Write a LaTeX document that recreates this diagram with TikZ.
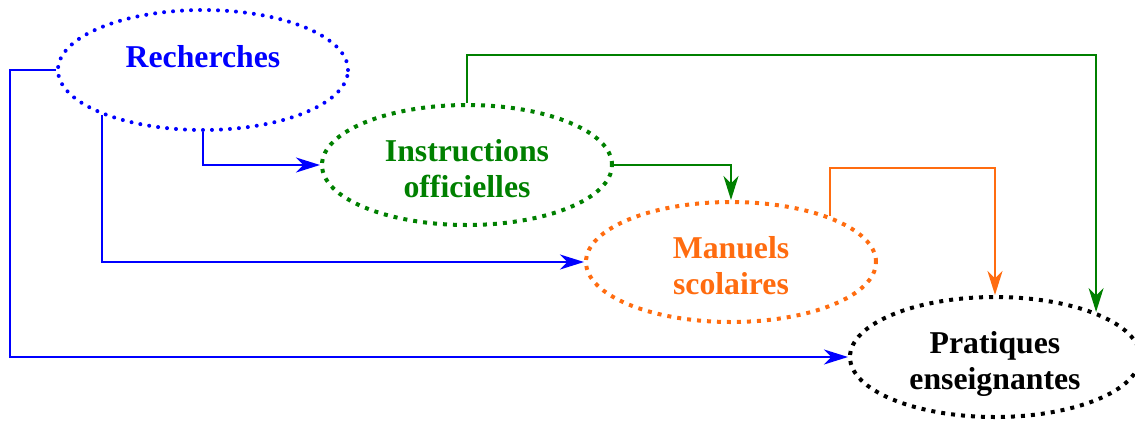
\documentclass[tikz,border=0pt]{standalone}
\usepackage{fontspec}
\setmainfont{Liberation Serif}
\usetikzlibrary{positioning,shapes,arrows.meta}
\definecolor{vert}{RGB}{0,128,0}
\definecolor{orangeM}{RGB}{255,108,16}

\begin{document}
\begin{tikzpicture}[x=0.4pt,y=-0.4pt,
  bloc/.style={ellipse, minimum width=116pt, minimum height=48pt, inner sep=0pt, align=center,
    font=\fontsize{12.7}{14.4}\selectfont\bfseries, line width=1.6pt},
  deuxl/.style={bloc, text height=26.2pt, text depth=0pt},
  pointsq/.style={dash pattern=on 1.6pt off 2.4pt},
  fl/.style={-{Stealth[length=9.6pt,width=6pt,inset=3pt]}, line width=0.8pt}]
\useasboundingbox (0,0) rectangle (1135,421);
\node[bloc, draw=blue, text=blue, line cap=round, dash pattern=on 0pt off 3.6pt, text depth=11pt] (rech) at (203,70) {Recherches};
\node[deuxl, pointsq, draw=vert, text=vert] (inst) at (467,165) {Instructions\\officielles};
\node[deuxl, pointsq, draw=orangeM, text=orangeM] (manu) at (731,262) {Manuels\\scolaires};
\node[deuxl, pointsq, draw=black] (prat) at (995,357) {Pratiques\\enseignantes};
\draw[fl, blue] (rech.west) -- ++(-46,0) |- (prat.west);
\draw[fl, blue] (rech.204) |- (manu.west);
\draw[fl, blue] (rech.south) |- (inst.west);
\draw[fl, vert] (inst.north) -- ++(0,-48) -| (prat.24);
\draw[fl, vert] (inst.east) -| (manu.north);
\draw[fl, orangeM] (manu.25) -- ++(0,-48) -| (prat.north);
\end{tikzpicture}
\end{document}
